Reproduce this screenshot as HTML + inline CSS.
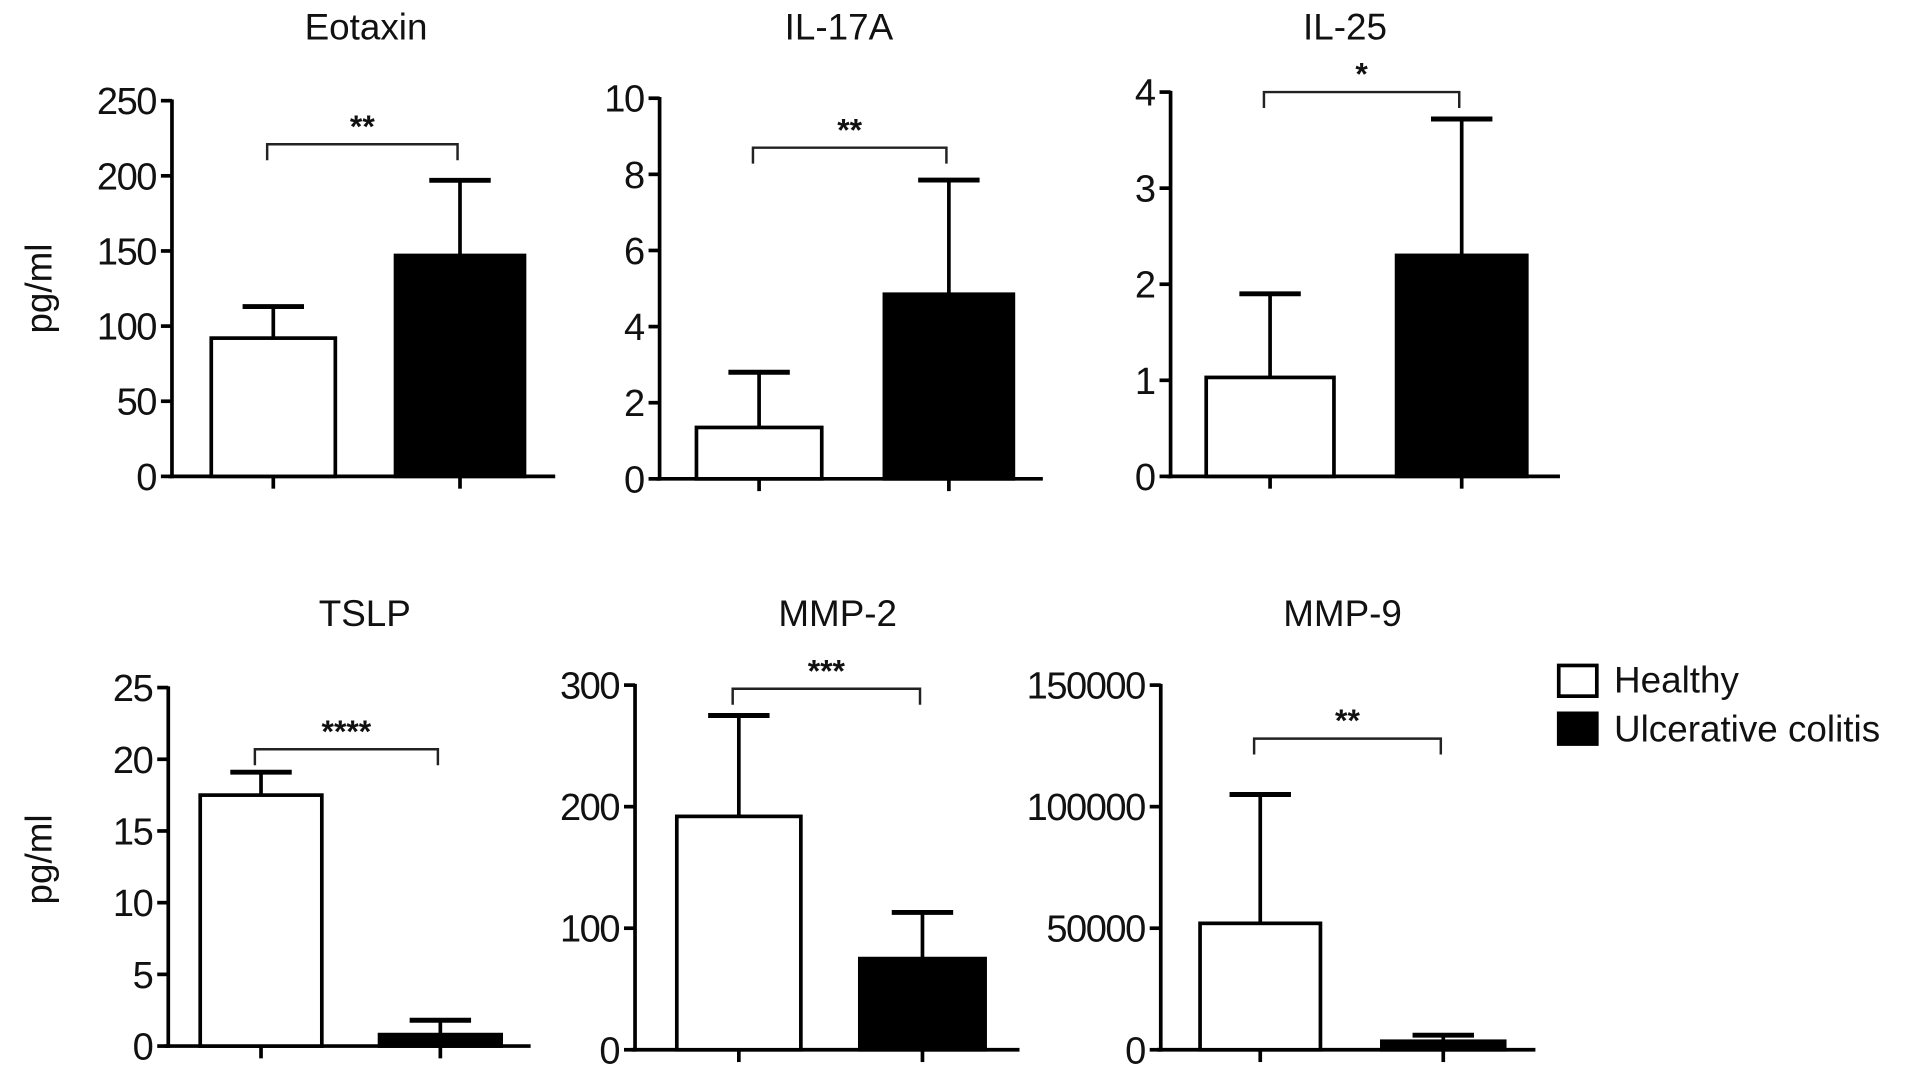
<!DOCTYPE html>
<html><head><meta charset="utf-8"><style>
html,body{margin:0;padding:0;background:#fff;}
svg{display:block;}
text{font-family:"Liberation Sans",Arial,sans-serif;fill:#111;}
</style></head><body>
<svg id="chart" width="1926" height="1078" viewBox="0 0 1568 878" preserveAspectRatio="none" xmlns="http://www.w3.org/2000/svg">
<g id="legend">
  <rect x="1269" y="542" width="31" height="25" fill="#fff" stroke="#000" stroke-width="3"/>
  <text x="1314" y="564" font-size="30">Healthy</text>
  <rect x="1269" y="581" width="31" height="25" fill="#000" stroke="#000" stroke-width="3"/>
  <text x="1314" y="604" font-size="30">Ulcerative colitis</text>
</g>
</svg>
<script>
const panelTitles = ["Eotaxin","IL-17A","IL-25","TSLP","MMP-2","MMP-9"];
const yMax = [250,10,4,25,300,150000];
const yTicks = [[0,50,100,150,200,250],[0,2,4,6,8,10],[0,1,2,3,4],[0,5,10,15,20,25],[0,100,200,300],[0,50000,100000,150000]];
const healthyMean = [92,1.35,1.03,17.5,192,52000];
const healthyErr = [113,2.8,1.9,19.1,275,105000];
const ucMean = [147,4.85,2.3,0.8,75,3500];
const ucErr = [197,7.85,3.72,1.8,113,6000];
const significance = ["**","**","*","****","***","**"];
const bracketValue = [221,8.7,4.0,20.7,297,128000];

const layout = [
  {ax:140, top:82, bot:388, end:452, w1:172, w2:273, b1:322, b2:427, tx:298, ty:32},
  {ax:537, top:80, bot:390, end:849, w1:567, w2:669, b1:720, b2:825, tx:683, ty:32},
  {ax:953, top:75, bot:388, end:1270, w1:982, w2:1086, b1:1137, b2:1243, tx:1095, ty:32},
  {ax:137, top:560, bot:852, end:432, w1:163, w2:262, b1:309, b2:408, tx:297, ty:510},
  {ax:517, top:558, bot:855, end:830, w1:551, w2:652, b1:700, b2:802, tx:682, ty:510},
  {ax:945, top:558, bot:855, end:1250, w1:977, w2:1075, b1:1125, b2:1225, tx:1093, ty:510}
];
const NS="http://www.w3.org/2000/svg";
const svg=document.getElementById('chart');
function mk(tag, attrs, parent){
  const e=document.createElementNS(NS,tag);
  for(const k in attrs) e.setAttribute(k, attrs[k]);
  parent.appendChild(e); return e;
}
const sw=3;
panelTitles.forEach((title,i)=>{
  const L=layout[i];
  const y=v=>L.bot-(v/yMax[i])*(L.bot-L.top);
  const g=mk('g',{},svg);
  
  
  const t=mk('text',{x:L.tx,y:L.ty,'font-size':30,'text-anchor':'middle'},g);
  t.textContent=title;
  
  
  const ya=mk('line',{x1:L.ax,y1:L.top-1,x2:L.ax,y2:L.bot+1.5,stroke:'#000','stroke-width':sw},g);
  
  
  const xa=mk('line',{x1:L.ax-3,y1:L.bot,x2:L.end,y2:L.bot,stroke:'#000','stroke-width':sw},g);
  
  
  yTicks[i].forEach(v=>{
    const tk=mk('line',{x1:L.ax-9,y1:y(v),x2:L.ax,y2:y(v),stroke:'#000','stroke-width':sw},g);
    
    
    const tl=mk('text',{x:L.ax-13,y:y(v)+11,'font-size':31,'letter-spacing':-1.2,'text-anchor':'end'},g);
    tl.textContent=v;
    
    
  });
  [[L.w1,L.w2],[L.b1,L.b2]].forEach(([a,b])=>{
    const c=(a+b)/2;
    const xt=mk('line',{x1:c,y1:L.bot,x2:c,y2:L.bot+10,stroke:'#000','stroke-width':sw},g);
    
    
  });
  const series=[[healthyMean[i],healthyErr[i],L.w1,L.w2,'#fff','healthy'],[ucMean[i],ucErr[i],L.b1,L.b2,'#000','uc']];
  series.forEach(([m,e,a,b,fill,nm])=>{
    const c=(a+b)/2;
    const el=mk('line',{x1:c,y1:y(m),x2:c,y2:y(e),stroke:'#000','stroke-width':sw},g);
    
    
    const cap=mk('line',{x1:c-25,y1:y(e),x2:c+25,y2:y(e),stroke:'#000','stroke-width':sw+1},g);
    
    
    const r=mk('rect',{x:a,y:y(m),width:b-a,height:L.bot-y(m),fill:fill,stroke:'#000','stroke-width':sw},g);
    
    
  });
  const c1=(L.w1+L.w2)/2-5, c2=(L.b1+L.b2)/2-2, by=y(bracketValue[i]);
  const br=mk('path',{d:`M${c1} ${by+13} V${by} H${c2} V${by+13}`,fill:'none',stroke:'#222','stroke-width':2},g);
  
  
  const st=mk('text',{x:(c1+c2)/2,y:by-6,'font-size':26,'text-anchor':'middle','font-weight':'bold'},g);
  st.textContent=significance[i];
  
  
});
[[235],[700]].forEach(([cy],k)=>{
  const yl=mk('text',{x:0,y:0,'font-size':30,'text-anchor':'middle',transform:`translate(42 ${cy}) rotate(-90)`},svg);
  yl.textContent='pg/ml';
  
  
});
</script>
</body></html>
